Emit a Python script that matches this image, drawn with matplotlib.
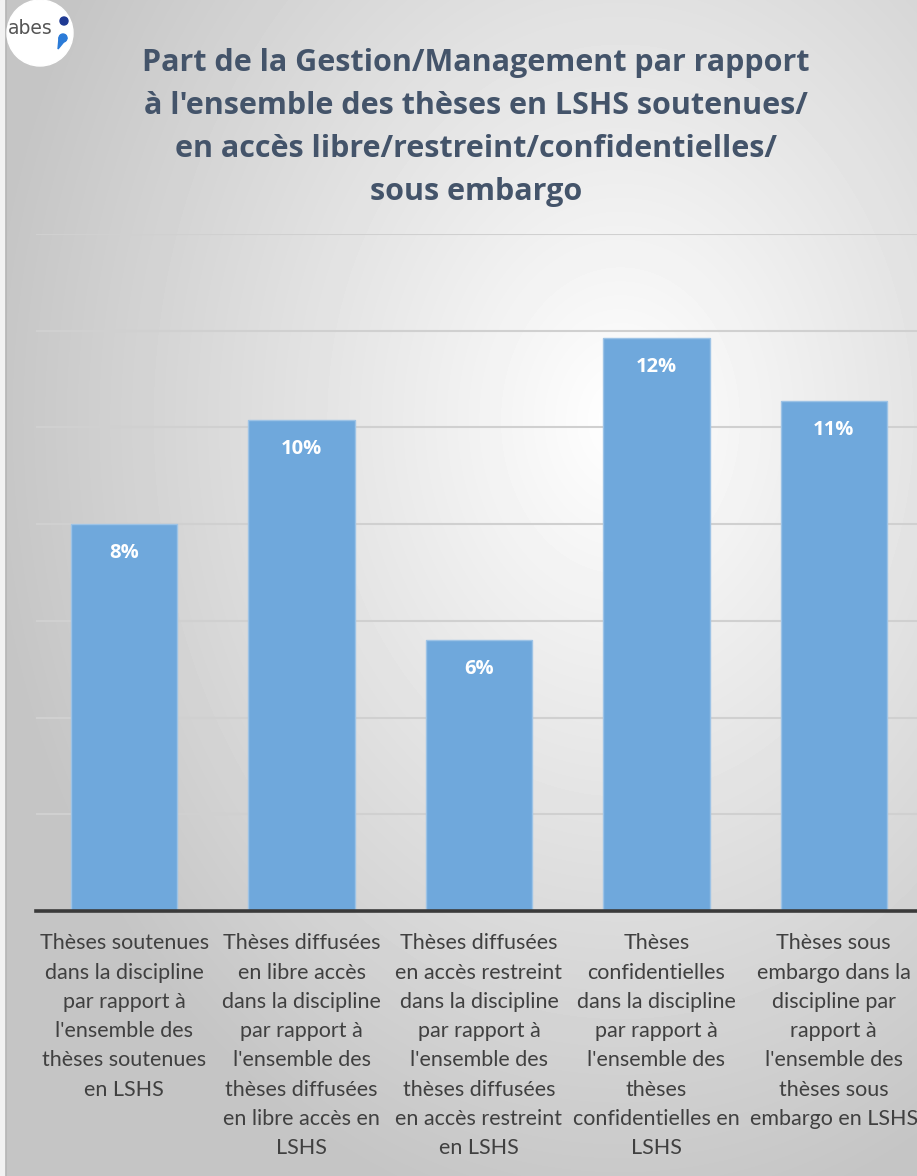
import numpy as np
import matplotlib
matplotlib.use('Agg')
import matplotlib.pyplot as plt
from matplotlib.patches import Circle, Polygon

categories = [
    "Thèses soutenues\ndans la discipline\npar rapport à\nl'ensemble des\nthèses soutenues\nen LSHS",
    "Thèses diffusées\nen libre accès\ndans la discipline\npar rapport à\nl'ensemble des\nthèses diffusées\nen libre accès en\nLSHS",
    "Thèses diffusées\nen accès restreint\ndans la discipline\npar rapport à\nl'ensemble des\nthèses diffusées\nen accès restreint\nen LSHS",
    "Thèses\nconfidentielles\ndans la discipline\npar rapport à\nl'ensemble des\nthèses\nconfidentielles en\nLSHS",
    "Thèses sous\nembargo dans la\ndiscipline par\nrapport à\nl'ensemble des\nthèses sous\nembargo en LSHS",
]
values = [8.0, 10.15, 5.6, 11.85, 10.55]
value_labels = ['8%', '10%', '6%', '12%', '11%']
title = ("Part de la Gestion/Management par rapport\n"
         "à l'ensemble des thèses en LSHS soutenues/\n"
         "en accès libre/restreint/confidentielles/\n"
         "sous embargo")

W, H = 917, 1176
fig = plt.figure(figsize=(W / 100, H / 100), dpi=100)

# radial grey background
bg = fig.add_axes([0, 0, 1, 1])
yy, xx = np.mgrid[0:H, 0:W]
r = np.sqrt(((xx - 620) / W) ** 2 + ((yy - 420) / H) ** 2)
shade = np.clip(1.0 - 0.33 * r, 0.77, 1.0)
bg.imshow(shade, cmap='gray', vmin=0, vmax=1, extent=[0, W, H, 0], aspect='auto')
bg.axvspan(0, 5, color='#f2f2f2')
bg.axvline(5.5, color='#b4b4b4', lw=1.2)
bg.set_xlim(0, W)
bg.set_ylim(H, 0)
bg.axis('off')

# logo
bg.add_patch(Circle((40, 33), 33, color='white', zorder=3))
bg.text(8, 28, 'abes', fontsize=13.5, color='#555555', family='Liberation Sans Narrow',
        va='center', zorder=4)
bg.add_patch(Circle((64, 21), 4, color='#1f3a93', zorder=4))
bg.add_patch(Circle((63, 38), 4, color='#2b7bd8', zorder=4))
bg.add_patch(Polygon([[59, 38], [67, 38], [58, 49]], color='#2b7bd8', zorder=4))

bg.text(476, 127.5, title, fontsize=22, fontweight='bold', color='#44546A',
        family='Open Sans', ha='center', va='center', linespacing=1.56)

# plot area: x from 35.5 to 922.5 px, y from 911 (0%) to 234 (14%)
ax = fig.add_axes([35.5 / W, (H - 911) / H, 887 / W, (911 - 234) / H])
ax.patch.set_alpha(0)
x = np.arange(len(values))
ax.bar(x, values, width=0.6, color='#6FA8DC', edgecolor='#9DC3E6', linewidth=1, zorder=3)
ax.set_xlim(-0.5, len(values) - 0.5)
ax.set_ylim(0, 14)
ax.set_yticks(np.arange(0, 15, 2))
ax.yaxis.grid(True, color='#d0d0d0', lw=1.5, zorder=0)
ax.tick_params(left=False, labelleft=False, bottom=False, labelbottom=False)
for s in ['top', 'right', 'left']:
    ax.spines[s].set_visible(False)
ax.spines['bottom'].set_color('#3a3a3a')
ax.spines['bottom'].set_linewidth(2.6)
ax.spines['bottom'].set_zorder(5)

for xi, v, lab in zip(x, values, value_labels):
    ax.text(xi, v - 0.6, lab, ha='center', va='center', color='white',
            fontsize=14.5, fontweight='bold', family='Open Sans', zorder=4)

for xi, cat in zip(x, categories):
    ax.annotate(cat, (xi, 0), xytext=(0, -16), textcoords='offset points',
                ha='center', va='top', fontsize=15.5, color='#404040',
                family='Lato', linespacing=1.58, annotation_clip=False)

fig.savefig('out.png', dpi=100)
